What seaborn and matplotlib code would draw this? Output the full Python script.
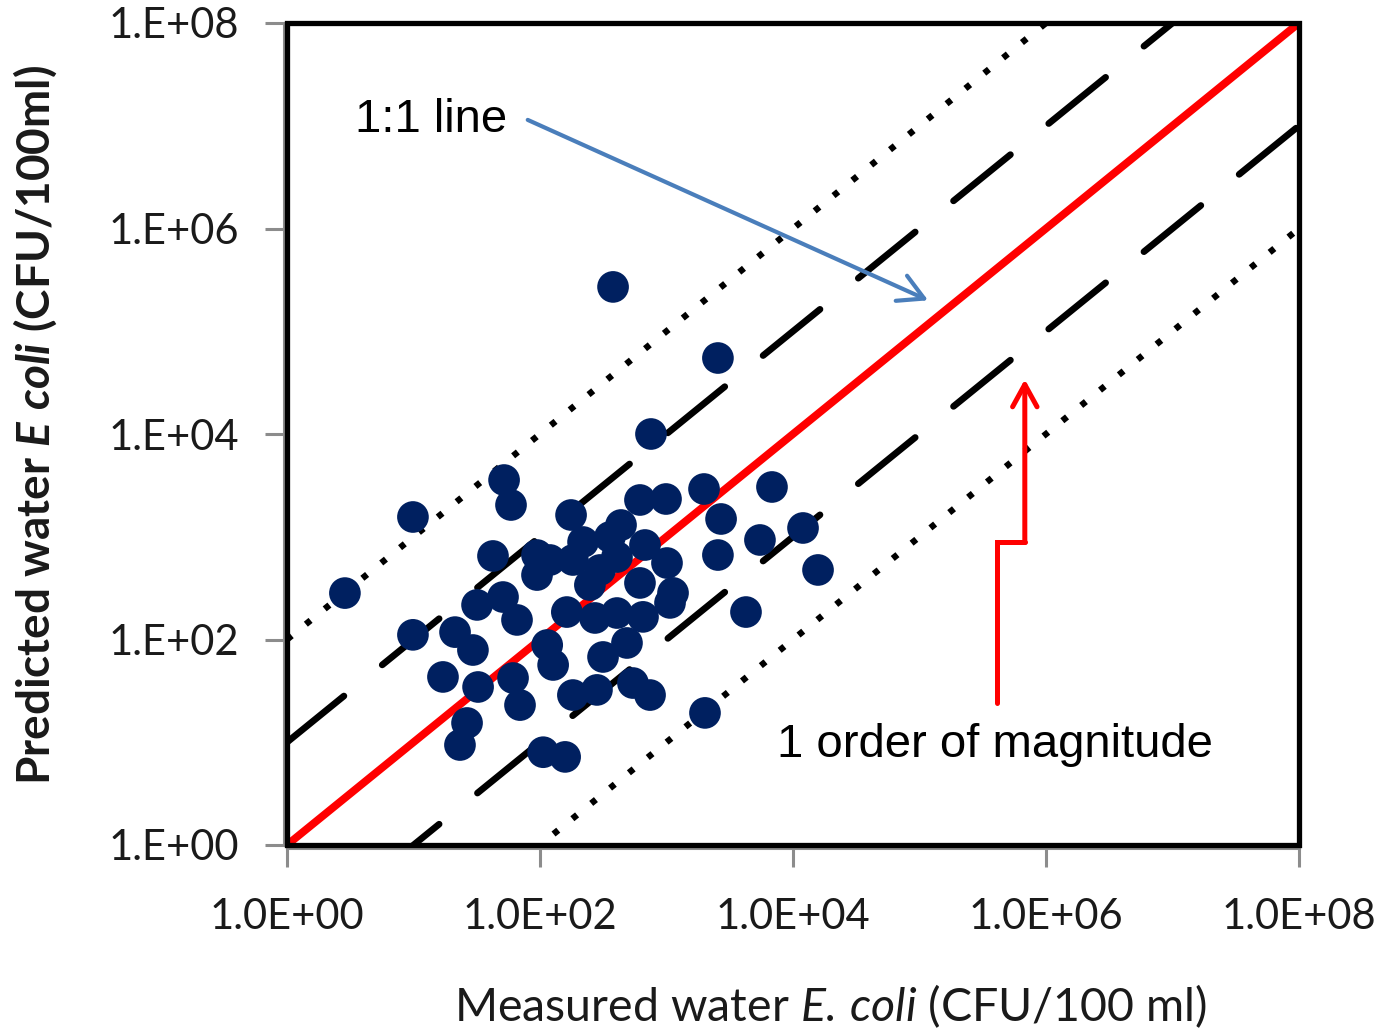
import numpy as np
import pandas as pd
import matplotlib
matplotlib.use("Agg")
import matplotlib.pyplot as plt
from matplotlib.ticker import FixedLocator, FuncFormatter, NullLocator
from matplotlib.patches import Rectangle
import seaborn as sns

# Measured vs predicted E. coli in water (CFU/100 ml)
measured = [378, 2550, 754, 52, 59, 9.9, 2.87, 9.9, 17.1, 26.5,
            23.3, 106, 158, 2015, 4250, 15770, 12000, 6820, 5480, 1980,
            2700, 2550, 617, 991, 437, 676, 406, 1009, 617, 1126,
            652, 406, 176, 219, 298, 94.7, 94.7, 120, 182, 42.5,
            31.8, 51, 65.8, 21.3, 29.5, 32.4, 61.2, 69.5, 114, 127,
            163, 272, 315, 487, 182, 282, 543, 741, 1066, 357, 248]
predicted = [2.70e5, 5.49e4, 1.0e4, 3565, 2037, 1557, 283, 111, 43.2, 15.4,
             9.4, 8.0, 7.2, 19.3, 185, 475, 1217, 3050, 930, 2915,
             1489, 664, 2279, 2330, 1301, 831, 635, 555, 355, 284,
             166, 181, 1628, 889, 475, 664, 424, 594, 594, 650,
             217, 259, 155, 118, 79, 34.5, 42.2, 23, 88.4, 56.5,
             185, 162, 67.6, 92.5, 28.8, 32.3, 37.7, 28.8, 227, 995, 339]

# Reference lines: 1:1, +/- one order and +/- two orders of magnitude
line_span = [1.0, 1.0e8]
one_order = [10.0, 0.1]
two_orders = [100.0, 0.01]

axis_ticks = [1e0, 1e2, 1e4, 1e6, 1e8]

df = pd.DataFrame({"measured": measured, "predicted": predicted})

sns.set_style("white")
plt.rcParams["font.family"] = ["Lato", "DejaVu Sans"]
plt.rcParams["mathtext.fontset"] = "custom"
plt.rcParams["mathtext.rm"] = "Lato"
plt.rcParams["mathtext.it"] = "Lato:italic:bold"
plt.rcParams["mathtext.sf"] = "Lato:italic"

fig = plt.figure(figsize=(13.84, 10.32), dpi=100)
ax = fig.add_axes([287 / 1384, 1 - 845 / 1032, 1012 / 1384, 822 / 1032])
ax.set_xscale("log")
ax.set_yscale("log")
ax.set_xlim(line_span)
ax.set_ylim(line_span)

xs = np.array(line_span)
for f in two_orders:
    ax.plot(xs, xs * f, color="black", lw=4.6, linestyle=(0, (0.95, 2.85)),
            dash_capstyle="butt", zorder=2)
for f in one_order:
    ax.plot(xs, xs * f, color="black", lw=4.8, linestyle=(0, (11.0, 7.4)),
            dash_capstyle="round", zorder=2)
ax.plot(xs, xs, color="#ff0000", lw=5.6, zorder=2.5)

sns.scatterplot(data=df, x="measured", y="predicted", ax=ax, s=520,
                color="#002060", edgecolor="none", linewidth=0, zorder=3,
                legend=False)

# Ticks and labels
ax.xaxis.set_major_locator(FixedLocator(axis_ticks))
ax.yaxis.set_major_locator(FixedLocator(axis_ticks))
ax.xaxis.set_minor_locator(NullLocator())
ax.yaxis.set_minor_locator(NullLocator())
ax.xaxis.set_major_formatter(FuncFormatter(lambda v, p: "1.0E+%02d" % int(round(np.log10(v)))))
ax.yaxis.set_major_formatter(FuncFormatter(lambda v, p: "1.E+%02d" % int(round(np.log10(v)))))
ax.tick_params(axis="both", which="major", direction="out", length=14, width=2.2,
               color="#8c8c8c", labelsize=30, labelcolor="#1a1a1a",
               bottom=True, left=True, top=False, right=False)
ax.tick_params(axis="x", pad=22)
ax.tick_params(axis="y", pad=18)

for side in ["left", "bottom"]:
    ax.spines[side].set_color("#8c8c8c")
    ax.spines[side].set_linewidth(2.2)
    ax.spines[side].set_position(("outward", 2.5))
for side in ["top", "right"]:
    ax.spines[side].set_visible(False)
ax.add_patch(Rectangle((0, 0), 1, 1, transform=ax.transAxes, fill=False,
                       edgecolor="black", linewidth=3.8, clip_on=False, zorder=5))

ax.set_xlabel(r"Measured water $\mathsf{E.\,coli}$ (CFU/100 ml)", fontsize=33.5,
              color="#1a1a1a")
ax.xaxis.set_label_coords(0.537, -0.196)
ax.xaxis.label.set_va("center")
ax.set_ylabel(r"Predicted water $\mathit{E\ coli}$ (CFU/100ml)", fontsize=33,
              fontweight="bold", color="#1a1a1a")
ax.yaxis.set_label_coords(-0.249, 0.511)
ax.yaxis.label.set_va("center")

# Annotations
ax.text(13.7, 1.14e7, "1:1 line", fontsize=34, family="Liberation Sans",
        ha="center", va="center", color="black", zorder=6)
ax.annotate("", xy=(1.17e5, 2.0e5), xytext=(80, 1.14e7),
            arrowprops=dict(arrowstyle="->,head_length=1.0,head_width=0.55",
                            mutation_scale=18, color="#4a7ebb", lw=3.0,
                            shrinkA=0, shrinkB=0),
            zorder=6)

ax.text(3.95e5, 9.4, "1 order of magnitude", fontsize=34, family="Liberation Sans",
        ha="center", va="center", color="black", zorder=6)
ax.plot([4.1e5, 4.1e5, 6.8e5], [24, 889, 889], color="#ff0000", lw=3.6,
        solid_joinstyle="miter", zorder=6)
ax.annotate("", xy=(6.8e5, 3.4e4), xytext=(6.8e5, 880),
            arrowprops=dict(arrowstyle="->,head_length=1.0,head_width=0.55",
                            mutation_scale=16, color="#ff0000", lw=3.6,
                            shrinkA=0, shrinkB=0),
            zorder=6)

fig.savefig("out.png", dpi=100, facecolor="white")
